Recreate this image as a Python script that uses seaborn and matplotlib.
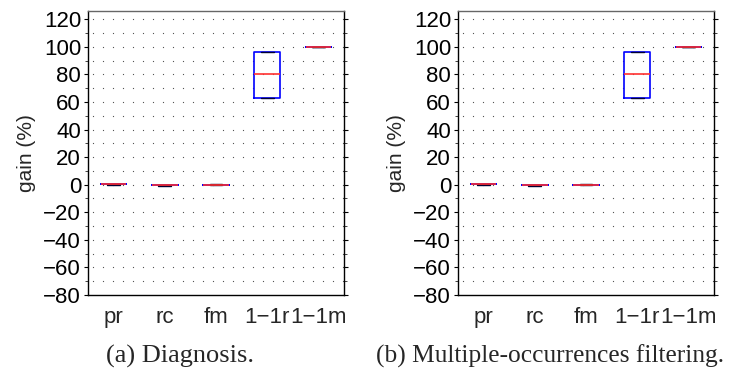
import numpy as np
import pandas as pd
import matplotlib
matplotlib.use("Agg")
import matplotlib.pyplot as plt
from matplotlib.ticker import MultipleLocator
import seaborn as sns

sns.set_style("white")
plt.rcParams["font.family"] = ["Liberation Sans", "DejaVu Sans"]

# Gain samples per measure (percent)
categories = ["pr", "rc", "fm", "1\u22121r", "1\u22121m"]
gain_pr = [0.0, 0.2, 0.3, 0.4, 0.5]
gain_rc = [-0.6, -0.5, -0.3, -0.1, 0.0]
gain_fm = [-0.2, -0.1, 0.0, 0.1, 0.2]
gain_11r = [63.0, 63.0, 80.0, 96.5, 96.5]
gain_11m = [100.0, 100.0, 100.0, 100.0, 100.0]

captions = ["(a) Diagnosis.", "(b) Multiple-occurrences filtering."]

series = [gain_pr, gain_rc, gain_fm, gain_11r, gain_11m]
df = pd.DataFrame({
    "measure": np.repeat(categories, [len(s) for s in series]),
    "gain": np.concatenate(series),
})

W, H = 733, 374
fig = plt.figure(figsize=(W / 100, H / 100), dpi=100)

panels = [(88, 344), (458, 714)]
caption_x = [180, 550]
caption_size = [19, 18.3]
top_px, bot_px = 11, 295

for (x0, x1), cx, cs, cap in zip(panels, caption_x, caption_size, captions):
    ax = fig.add_axes([x0 / W, 1 - bot_px / H, (x1 - x0) / W, (bot_px - top_px) / H])
    sns.boxplot(
        data=df, x="measure", y="gain", order=categories, ax=ax,
        width=0.5, whis=(0, 100), fill=False, linewidth=1.2,
        color="#0000ff",
        boxprops=dict(color="#0000ff"),
        medianprops=dict(color="#ff3030", linewidth=1.2),
        whiskerprops=dict(color="#0000ff", linestyle="--", linewidth=1.0),
        capprops=dict(color="#000033", linewidth=1.0),
        capwidths=0.25,
        showfliers=False,
    )
    ax.set_xlim(-0.5, 4.5)
    ax.set_ylim(-80, 126)
    ax.set_yticks(np.arange(-80, 121, 20))
    ax.yaxis.set_minor_locator(MultipleLocator(10))

    # dotted horizontal grid at every 10
    for yv in np.arange(-70, 121, 10):
        ax.axhline(yv, color="#555555", linewidth=0.8,
                   linestyle=(5, (1, 8)), zorder=0)

    for s in ax.spines.values():
        s.set_visible(True)
        s.set_color("black")
        s.set_linewidth(1.0)
    ax.spines["top"].set_color("#666666")

    ax.tick_params(axis="y", which="major", direction="out", length=3,
                   width=0.8, left=True, right=True, labelsize=16, pad=2,
                   colors="black")
    ax.tick_params(axis="y", which="minor", direction="out", length=2,
                   width=0.6, left=True, right=True)
    ax.tick_params(axis="x", which="both", bottom=False, top=False,
                   labelsize=16, pad=5)
    ax.set_xlabel("")
    ax.set_ylabel("gain (%)", fontsize=15, labelpad=5)
    ax.set_xticks(range(len(categories)))
    ax.set_xticklabels(categories)

    fig.text(cx / W, 1 - 356 / H, cap, ha="center", va="center",
             fontsize=cs, family=["Liberation Serif", "DejaVu Serif"])

fig.savefig("out.png", dpi=100)
